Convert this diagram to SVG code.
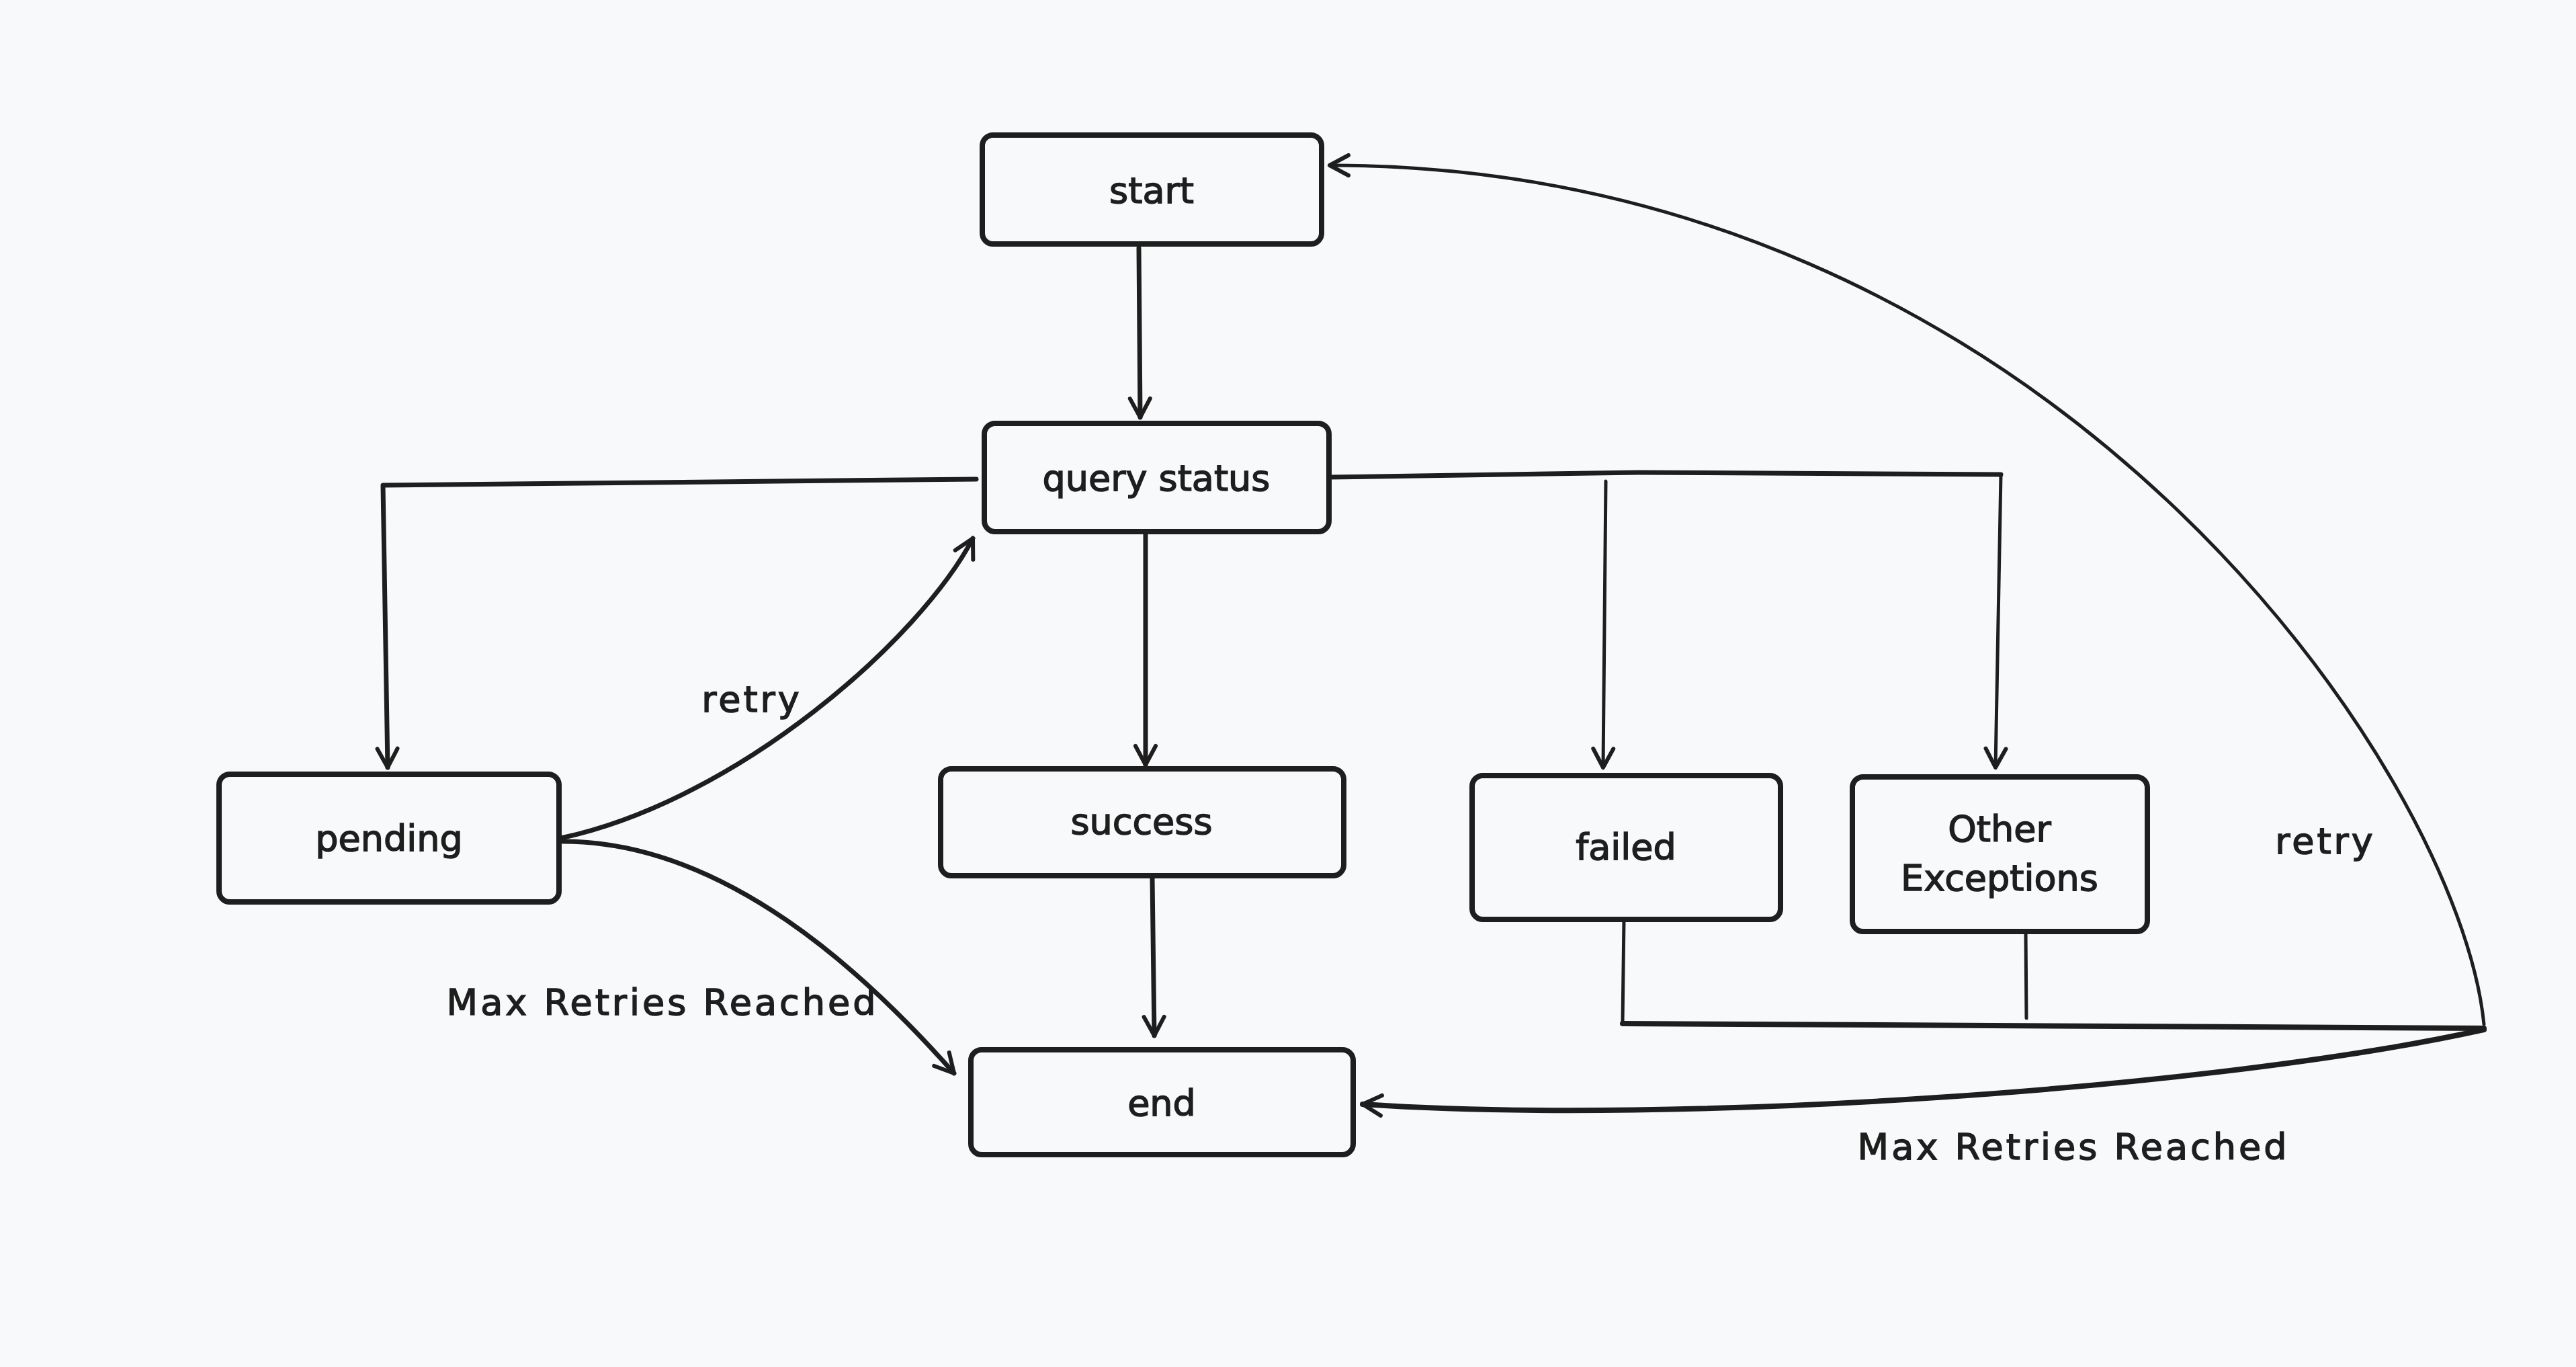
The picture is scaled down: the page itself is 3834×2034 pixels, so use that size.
<svg xmlns="http://www.w3.org/2000/svg" width="3834" height="2034" viewBox="0 0 3834 2034">
<defs>
<style>
.bg{fill:#f8f9fb}
.box{fill:#f8f9fb;stroke:#1e1e1e;stroke-width:8}
.lbl{font-family:"DejaVu Sans","Liberation Sans",sans-serif;font-size:54px;fill:#1e1e1e;stroke:#1e1e1e;stroke-width:1.5px;text-anchor:middle}
.edge{font-family:"DejaVu Sans","Liberation Sans",sans-serif;font-size:54px;fill:#1e1e1e;stroke:#1e1e1e;stroke-width:1.5px;text-anchor:middle;letter-spacing:4px}
.ln{fill:none;stroke:#1e1e1e;stroke-linecap:round;stroke-linejoin:round}
.w7{stroke-width:7}
.w5{stroke-width:5}
.w8{stroke-width:8}
</style>
<marker id="arr" markerUnits="userSpaceOnUse" markerWidth="40" markerHeight="40" refX="0" refY="0" orient="auto" style="overflow:visible">
<path d="M-28,-15 L0,0 L-28,15" fill="none" stroke="#1e1e1e" stroke-width="6" stroke-linecap="round" stroke-linejoin="round"/>
</marker>
</defs>
<rect class="bg" x="0" y="0" width="3834" height="2034"/>

<g id="connectors">
<path class="ln w7" d="M1695 369 L1697 621" marker-end="url(#arr)"/>
<path class="ln w7" d="M1453 713 L570 722 L577 1142" marker-end="url(#arr)"/>
<path class="ln w7" d="M1979 710 L2438 703 L2978 706" />
<path class="ln w5" d="M2978 706 L2970 1142" marker-end="url(#arr)"/>
<path class="ln w5" d="M2390 716 L2386 1142" marker-end="url(#arr)"/>
<path class="ln w7" d="M1705 795 L1705 1138" marker-end="url(#arr)"/>
<path class="ln w7" d="M1715 1307 L1718 1541" marker-end="url(#arr)"/>
<path class="ln w7" d="M835 1247 C1100 1190 1370 950 1448 801" marker-end="url(#arr)"/>
<path class="ln w7" d="M838 1252 C1080 1252 1290 1450 1420 1597" marker-end="url(#arr)"/>
<path class="ln w5" d="M2417 1368 L2415 1522"/>
<path class="ln w5" d="M3015 1386 L3016 1515"/>
<path class="ln w8" d="M2415 1523 L3697 1530"/>
<path class="ln w5" d="M3697 1524 C3660 1150 3050 246 1979 246" marker-end="url(#arr)"/>
<path class="ln w8" d="M3697 1532 C3300 1620 2500 1675 2028 1643" marker-end="url(#arr)"/>
<text class="edge" x="1119" y="1059">retry</text>
<text class="edge" x="986" y="1510">Max Retries Reached</text>
<text class="edge" x="3461" y="1270">retry</text>
<text class="edge" x="3086" y="1725">Max Retries Reached</text>
</g>

<g id="start">
<rect class="box" x="1462" y="201" width="505" height="162" rx="16"/>
<text class="lbl" x="1714" y="302">start</text>
</g>
<g id="query-status">
<rect class="box" x="1465" y="630" width="513" height="161" rx="16"/>
<text class="lbl" x="1721" y="730">query status</text>
</g>
<g id="pending">
<rect class="box" x="326" y="1152" width="506" height="190" rx="16"/>
<text class="lbl" x="579" y="1266">pending</text>
</g>
<g id="success">
<rect class="box" x="1400" y="1144" width="600" height="159" rx="16"/>
<text class="lbl" x="1699" y="1241">success</text>
</g>
<g id="failed">
<rect class="box" x="2191" y="1154" width="459" height="214" rx="16"/>
<text class="lbl" x="2420" y="1279">failed</text>
</g>
<g id="other-exceptions">
<rect class="box" x="2757" y="1156" width="439" height="230" rx="16"/>
<text class="lbl" x="2976" y="1252">Other</text>
<text class="lbl" x="2976" y="1325">Exceptions</text>
</g>
<g id="end">
<rect class="box" x="1445" y="1562" width="569" height="156" rx="16"/>
<text class="lbl" x="1729" y="1660">end</text>
</g>
</svg>
